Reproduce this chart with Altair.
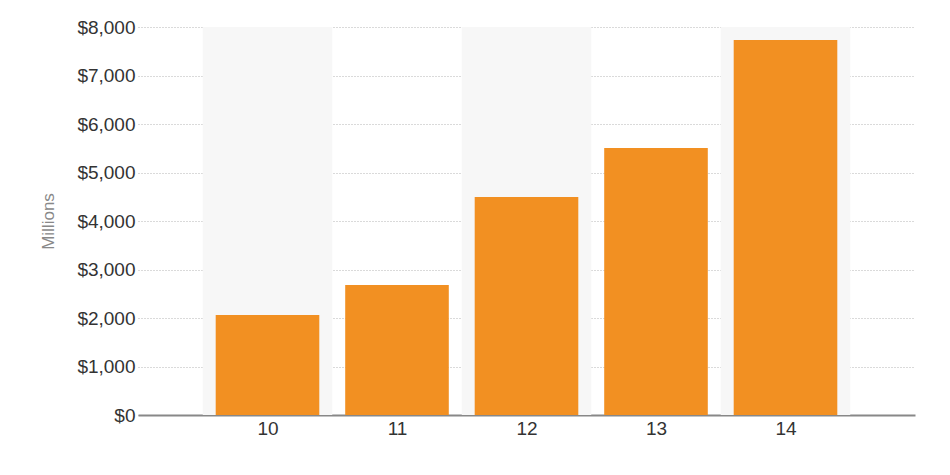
import altair as alt
import pandas as pd

years = [10, 11, 12, 13, 14]
values = [2060, 2680, 4495, 5505, 7730]
band_years = [10, 12, 14]
y_ticks = [0, 1000, 2000, 3000, 4000, 5000, 6000, 7000, 8000]

bars_df = pd.DataFrame({"year": years, "value": values})
bars_df["x0"] = bars_df["year"] - 0.4
bars_df["x1"] = bars_df["year"] + 0.4
bars_df["base"] = 0

bands_df = pd.DataFrame({"year": band_years})
bands_df["x0"] = bands_df["year"] - 0.5
bands_df["x1"] = bands_df["year"] + 0.5
bands_df["value"] = 8000
bands_df["base"] = 0

xscale = alt.Scale(domain=[9, 15], nice=False, zero=False)
yscale = alt.Scale(domain=[0, 8000], nice=False)

xaxis = alt.Axis(
    values=years,
    title=None,
    grid=False,
    ticks=False,
    domainColor="#888888",
    domainWidth=2,
    labelFont="Liberation Sans",
    labelFontSize=19,
    labelColor="#333333",
    labelPadding=4,
    format="d",
)
yaxis = alt.Axis(
    values=y_ticks,
    title="Millions",
    titleFont="Liberation Sans",
    titleFontSize=17,
    titleFontWeight="normal",
    titleColor="#888888",
    titlePadding=19,
    format="$,.0f",
    domain=False,
    ticks=False,
    labelFont="Liberation Sans",
    labelFontSize=19,
    labelColor="#333333",
    labelPadding=3,
    grid=True,
    gridColor="#b5b5b5",
    gridDash=[1, 2],
    gridWidth=1,
)

bands = alt.Chart(bands_df).mark_rect(color="#f7f7f7").encode(
    x=alt.X("x0:Q", scale=xscale, axis=xaxis),
    x2="x1:Q",
    y=alt.Y("value:Q", scale=yscale, axis=yaxis),
    y2="base:Q",
)

bars = alt.Chart(bars_df).mark_rect(color="#F29022").encode(
    x=alt.X("x0:Q", scale=xscale, axis=xaxis),
    x2="x1:Q",
    y=alt.Y("value:Q", scale=yscale, axis=yaxis),
    y2="base:Q",
)

chart = (
    alt.layer(bands, bars)
    .properties(
        width=777,
        height=388,
        background="white",
        autosize=alt.AutoSizeParams(type="none"),
        padding={"left": 130, "top": 19, "right": 27, "bottom": 40},
    )
    .configure_view(strokeWidth=0, stroke="transparent")
)

chart.save("out.html", embed_options={"renderer": "svg", "actions": False})
